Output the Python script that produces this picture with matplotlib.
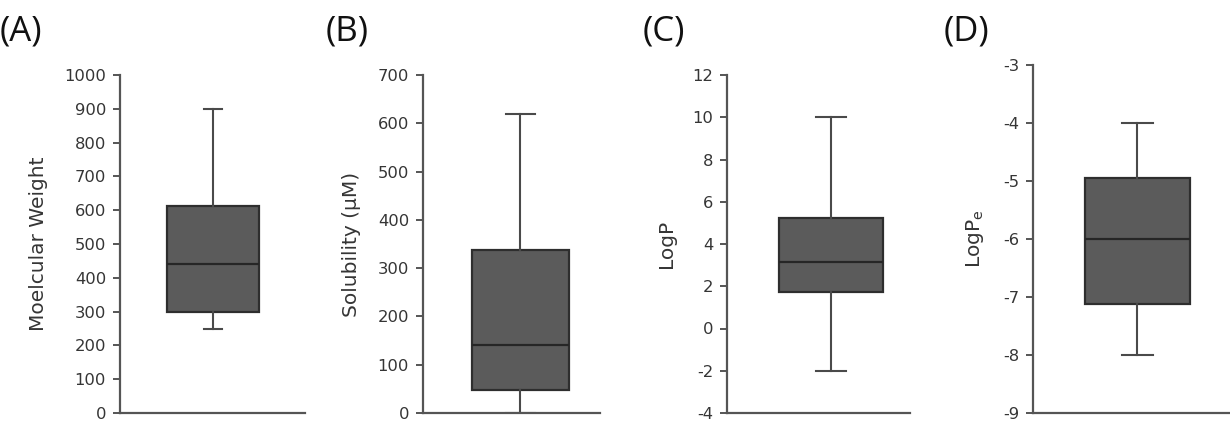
import matplotlib
matplotlib.use("Agg")
import matplotlib.pyplot as plt

# Data
panel_labels = ["(A)", "(B)", "(C)", "(D)"]
y_labels = ["Moelcular Weight", "Solubility (\u03bcM)", "LogP", "LogP$_\\mathregular{e}$"]
whislo = [250, 0, -2, -8]
q1 = [300, 47, 1.75, -7.12]
med = [440, 140, 3.15, -6.0]
q3 = [612, 338, 5.25, -4.95]
whishi = [900, 620, 10, -4]
y_limits = [(0, 1000), (0, 700), (-4, 12), (-9, -3)]
y_ticks = [list(range(0, 1001, 100)), list(range(0, 701, 100)),
           list(range(-4, 13, 2)), list(range(-9, -2, 1))]

W, H = 1230, 426
fig = plt.figure(figsize=(W / 100, H / 100), dpi=100)

# axes geometry in pixels: left, right, top(px of ymax), bottom
geo = [(120, 305, 75, 413), (423, 600, 75, 413), (727, 910, 75, 413), (1033, 1230, 65, 413)]
box_center = [0.503, 0.55, 0.57, 0.53]
box_width = [0.497, 0.55, 0.57, 0.53]
cap_width = [0.095, 0.165, 0.165, 0.16]
label_x = [0, 326, 643, 944]

axis_col = "#555555"
text_col = "#353535"

for i in range(4):
    l, r, t, b = geo[i]
    ax = fig.add_axes([l / W, 1 - b / H, (r - l) / W, (b - t) / H])
    stats = [dict(whislo=whislo[i], q1=q1[i], med=med[i], q3=q3[i], whishi=whishi[i], fliers=[])]
    ax.bxp(stats, positions=[box_center[i]], widths=[box_width[i]], patch_artist=True,
           showfliers=False,
           boxprops=dict(facecolor="#5b5b5b", edgecolor="#2e2e2e", linewidth=1.6),
           medianprops=dict(color="#262626", linewidth=1.6),
           whiskerprops=dict(color="#4a4a4a", linewidth=1.5),
           capprops=dict(color="#4a4a4a", linewidth=1.5),
           capwidths=[cap_width[i]])
    ax.set_xlim(0, 1)
    ax.set_ylim(*y_limits[i])
    ax.set_yticks(y_ticks[i])
    ax.set_yticklabels([str(v) for v in y_ticks[i]], fontfamily="DejaVu Sans",
                       fontsize=11.8, color=text_col)
    ax.set_xticks([])
    for s in ["top", "right"]:
        ax.spines[s].set_visible(False)
    for s in ["left", "bottom"]:
        ax.spines[s].set_color(axis_col)
        ax.spines[s].set_linewidth(1.6)
    ax.tick_params(axis="y", direction="out", length=5, width=1.4, color=axis_col, pad=5)
    ax.set_ylabel(y_labels[i], fontfamily="DejaVu Sans", fontsize=14.5, color=text_col,
                  labelpad=12)
    fig.text(label_x[i] / W, 1 - 32 / H, panel_labels[i], fontfamily="Open Sans",
             fontsize=25, color="#111111", va="center", ha="left")

fig.savefig("out.png", dpi=100, facecolor="white")
